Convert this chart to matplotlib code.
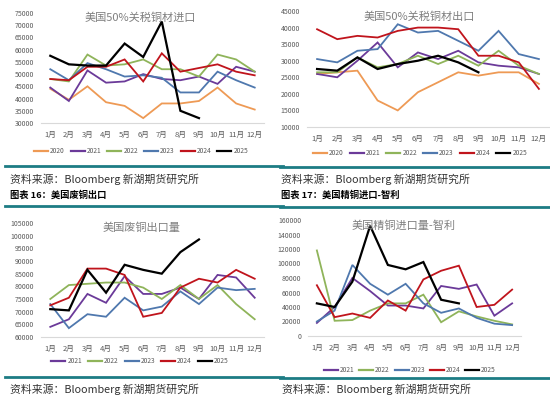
import numpy as np
import matplotlib
matplotlib.use('Agg')
import matplotlib.pyplot as plt
from matplotlib.lines import Line2D

plt.rcParams['font.family'] = ['Noto Sans CJK SC', 'DejaVu Sans']

months = ['1月', '2月', '3月', '4月', '5月', '6月', '7月', '8月', '9月', '10月', '11月', '12月']

# 美国50%关税铜材进口
imp_2020 = [44000, 39500, 45000, 38500, 37000, 32000, 38000, 38000, 39000, 44500, 38000, 35500]
imp_2021 = [44500, 39000, 51500, 46500, 47000, 50000, 48000, 47500, 49000, 46000, 53000, 51000]
imp_2022 = [48000, 47000, 58000, 53500, 54000, 56000, 52000, 52000, 49000, 58000, 56000, 51000]
imp_2023 = [52000, 47500, 54500, 52000, 49000, 49500, 48500, 42500, 42500, 51000, 47500, 44500]
imp_2024 = [48000, 47500, 53000, 53000, 56000, 47000, 58500, 51000, 52500, 54000, 51000, 49500]
imp_2025 = [57500, 54000, 53500, 53500, 62500, 57000, 71500, 35000, 32000]

# 美国50%关税铜材出口
exp_2020 = [26000, 26500, 27000, 18000, 15000, 20500, 23500, 26500, 25500, 26500, 26500, 23000]
exp_2021 = [26000, 25000, 30000, 35500, 28000, 32500, 30500, 33000, 29500, 28500, 28000, 26000]
exp_2022 = [26500, 26500, 31000, 28000, 29000, 31500, 29000, 31500, 28500, 33000, 28500, 26000]
exp_2023 = [30500, 29500, 33000, 33500, 41000, 38500, 39000, 36000, 33000, 39000, 32000, 30500]
exp_2024 = [39500, 36500, 37500, 37000, 39000, 40000, 40000, 39500, 31500, 31500, 29500, 21500]
exp_2025 = [27500, 27000, 31000, 27500, 29000, 30000, 31500, 29500, 26500]

# 美国废铜出口量
scrap_2021 = [64000, 67000, 77000, 73500, 84000, 77000, 77000, 79500, 75000, 84500, 83500, 75500]
scrap_2022 = [75000, 80500, 81000, 81500, 81500, 79500, 75000, 80500, 75000, 80500, 73000, 67000]
scrap_2023 = [73000, 63500, 69000, 68000, 75500, 70500, 72000, 78000, 73000, 79500, 78500, 79000]
scrap_2024 = [72500, 75500, 87000, 87000, 84500, 68000, 69500, 79500, 83000, 81500, 86500, 83000]
scrap_2025 = [71000, 70500, 86500, 77500, 88500, 86500, 85000, 93500, 98500]

# 美国精铜进口量-智利
chile_2021 = [18000, 40000, 80000, 62000, 42000, 42000, 38000, 69000, 65000, 71000, 28000, 45000]
chile_2022 = [118000, 21000, 22000, 35000, 45000, 45000, 57000, 19000, 34000, 27000, 21000, 16000]
chile_2023 = [20000, 35000, 98000, 72000, 57000, 72000, 45000, 32000, 38000, 25000, 17000, 15000]
chile_2024 = [70000, 26000, 31000, 25000, 49000, 35000, 78000, 90000, 97000, 40000, 43000, 64000]
chile_2025 = [45000, 40000, 75000, 152000, 98000, 92000, 102000, 50000, 45000]

COLORS = {'2020': '#EE9A55', '2021': '#6B3A99', '2022': '#8FB45A',
          '2023': '#4F78AE', '2024': '#C0141C', '2025': '#000000'}
TEAL = '#1D7C84'
GRAY = '#595959'

W, H = 550, 397
fig = plt.figure(figsize=(W / 100, H / 100), dpi=100)


def px_axes(x0, y0, x1, y1):
    # пиксельные координаты (сверху вниз) -> доли фигуры
    return fig.add_axes([x0 / W, 1 - y1 / H, (x1 - x0) / W, (y1 - y0) / H])


def draw_chart(box, title, title_xy, series, ylim, ystep, legend_xy, colsp=0.9):
    ax = px_axes(*box)
    x = np.arange(12)
    for year, vals in series:
        lw = 1.6 if year == '2025' else 1.3
        ax.plot(x[:len(vals)], vals, color=COLORS[year], lw=lw, label=year,
                solid_joinstyle='miter')
    ax.set_xlim(-0.5, 11.5)
    ax.set_ylim(*ylim)
    ax.set_yticks(np.arange(ylim[0], ylim[1] + 1, ystep))
    ax.set_xticks(x)
    ax.set_xticklabels(months)
    ax.tick_params(length=0, labelsize=5, colors=GRAY, pad=5)
    ax.tick_params(axis='x', labelsize=5.5, pad=6)
    for s in ['top', 'right', 'left']:
        ax.spines[s].set_visible(False)
    ax.spines['bottom'].set_color('#D9D9D9')
    ax.spines['bottom'].set_linewidth(0.8)
    fig.text(title_xy[0] / W, 1 - title_xy[1] / H, title, ha='center', va='center',
             fontsize=8, color='#7F7F7F')
    handles = [Line2D([0], [0], color=COLORS[y], lw=1.6) for y, _ in series]
    fig.legend(handles, [y for y, _ in series], loc='center',
               bbox_to_anchor=(legend_xy[0] / W, 1 - legend_xy[1] / H),
               ncol=len(series), frameon=False, fontsize=4.8, handlelength=2.1,
               columnspacing=colsp, handletextpad=0.3, labelcolor=GRAY)
    return ax


draw_chart((41, 13, 264, 123), '美国50%关税铜材进口', (140, 18),
           [('2020', imp_2020), ('2021', imp_2021), ('2022', imp_2022),
            ('2023', imp_2023), ('2024', imp_2024), ('2025', imp_2025)],
           (30000, 75000), 5000, (141, 151))

draw_chart((307, 11, 549, 127), '美国50%关税铜材出口', (419, 17),
           [('2020', exp_2020), ('2021', exp_2021), ('2022', exp_2022),
            ('2023', exp_2023), ('2024', exp_2024), ('2025', exp_2025)],
           (10000, 45000), 5000, (420, 153))

draw_chart((41, 223, 264, 337), '美国废铜出口量', (141, 228),
           [('2021', scrap_2021), ('2022', scrap_2022), ('2023', scrap_2023),
            ('2024', scrap_2024), ('2025', scrap_2025)],
           (60000, 105000), 5000, (140, 361))

draw_chart((308, 220, 521, 336), '美国精铜进口量-智利', (404, 226),
           [('2021', chile_2021), ('2022', chile_2022), ('2023', chile_2023),
            ('2024', chile_2024), ('2025', chile_2025)],
           (0, 160000), 20000, (410, 370), colsp=0.7)


# разделительные линии
def hline(y, x0, x1, lw=2.0):
    fig.add_artist(Line2D([x0 / W, x1 / W], [1 - y / H, 1 - y / H],
                          color=TEAL, lw=lw, transform=fig.transFigure))


hline(166, 5, 283)
hline(167, 280, 550)
hline(206, 5, 283)
hline(207, 280, 550)
hline(377, 5, 283)
hline(378, 280, 550)

src = '资料来源：Bloomberg 新湖期货研究所'
for xp, yp in [(10, 179), (281, 179), (10, 389), (282, 389)]:
    fig.text(xp / W, 1 - yp / H, src, ha='left', va='center', fontsize=7.8, color='#333333')

fig.text(10 / W, 1 - 195 / H, '图表 16：美国废铜出口', ha='left', va='center',
         fontsize=6.7, fontweight='bold', color='black')
fig.text(281 / W, 1 - 195 / H, '图表 17：美国精铜进口-智利', ha='left', va='center',
         fontsize=6.7, fontweight='bold', color='black')

fig.savefig('out.png', dpi=100)
